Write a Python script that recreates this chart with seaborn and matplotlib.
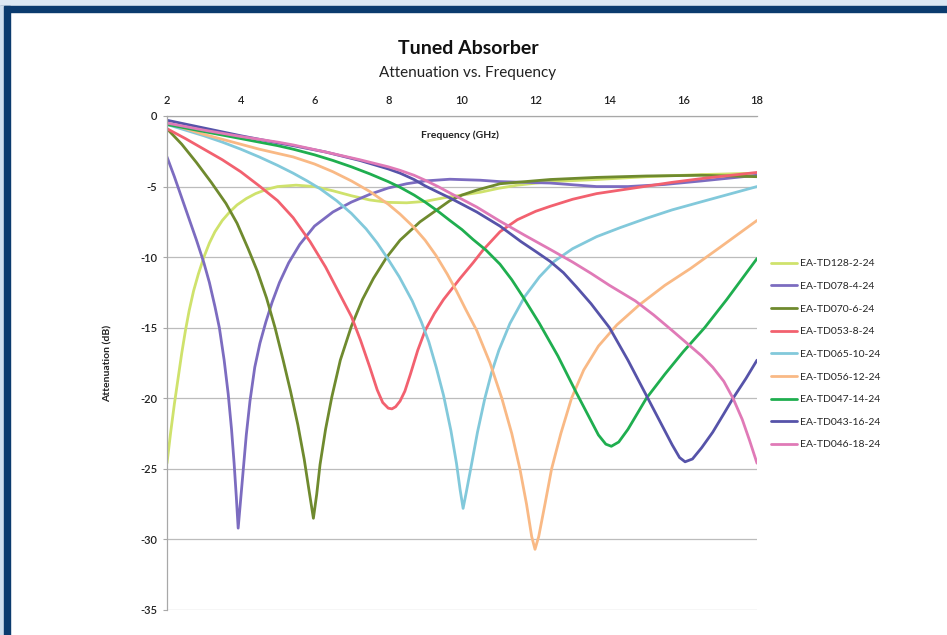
import matplotlib
matplotlib.use("Agg")
import matplotlib.pyplot as plt
import matplotlib.patches as mpatches
import pandas as pd
import seaborn as sns

# values (frequency in GHz, attenuation in dB)
series_names = ["EA-TD128-2-24", "EA-TD078-4-24", "EA-TD070-6-24", "EA-TD053-8-24",
                "EA-TD065-10-24", "EA-TD056-12-24", "EA-TD047-14-24", "EA-TD043-16-24",
                "EA-TD046-18-24"]

td128_f = [2.0, 2.1, 2.2, 2.3, 2.4, 2.5, 2.6, 2.72, 2.85, 3.0, 3.15, 3.3, 3.5, 3.7, 3.9,
           4.15, 4.4, 4.7, 5.0, 5.5, 6.0, 6.5, 7.0, 7.5, 8.0, 8.5, 9.0, 9.5, 10.0, 10.5,
           11.0, 11.5, 12.39, 13.65, 15.0, 16.5, 18.0]
td128_a = [-24.6, -22.4, -20.4, -18.6, -16.8, -15.2, -13.8, -12.4, -11.2, -10.0, -9.0, -8.2,
           -7.4, -6.8, -6.3, -5.85, -5.5, -5.2, -5.0, -4.9, -5.0, -5.3, -5.65, -5.95, -6.12,
           -6.15, -6.05, -5.8, -5.6, -5.4, -5.12, -4.9, -4.65, -4.5, -4.3, -4.15, -4.05]

td078_f = [2.0, 2.2, 2.4, 2.6, 2.8, 3.0, 3.15, 3.3, 3.42, 3.55, 3.66, 3.75, 3.82, 3.88, 3.93,
           3.99, 4.07, 4.15, 4.25, 4.38, 4.52, 4.68, 4.85, 5.05, 5.3, 5.6, 6.0, 6.5, 7.0,
           7.5, 8.0, 8.5, 9.0, 9.67, 10.5, 11.03, 12.39, 13.65, 14.5, 15.5, 16.5, 18.0]
td078_a = [-2.9, -4.3, -5.8, -7.3, -8.8, -10.4, -11.8, -13.5, -15.0, -17.3, -19.7, -22.2,
           -24.6, -27.0, -29.2, -27.4, -25.0, -22.6, -20.2, -17.8, -16.1, -14.6, -13.2, -11.8,
           -10.4, -9.1, -7.8, -6.8, -6.1, -5.55, -5.1, -4.8, -4.6, -4.48, -4.55, -4.65, -4.75,
           -5.0, -5.0, -4.85, -4.6, -4.2]

td070_f = [2.0, 2.4, 2.8, 3.2, 3.6, 3.9, 4.2, 4.45, 4.7, 4.93, 5.15, 5.35, 5.55, 5.72, 5.85,
           5.97, 6.06, 6.15, 6.3, 6.47, 6.7, 7.0, 7.3, 7.6, 7.96, 8.32, 8.86, 9.4, 9.67, 10.0,
           10.4, 11.03, 12.39, 13.65, 15.0, 16.5, 18.0]
td070_a = [-0.9, -2.0, -3.3, -4.7, -6.2, -7.6, -9.4, -11.0, -12.9, -15.0, -17.3, -19.5, -21.9,
           -24.3, -26.5, -28.5, -26.8, -24.7, -22.2, -19.9, -17.3, -14.9, -13.0, -11.5, -10.0,
           -8.8, -7.5, -6.5, -6.0, -5.6, -5.25, -4.8, -4.5, -4.35, -4.25, -4.2, -4.3]

td053_f = [2.0, 2.5, 3.0, 3.5, 4.0, 4.5, 5.0, 5.42, 5.88, 6.3, 6.7, 7.0, 7.25, 7.5, 7.7, 7.85,
           8.0, 8.1, 8.2, 8.32, 8.45, 8.6, 8.8, 9.0, 9.25, 9.5, 9.95, 10.3, 10.57, 11.03, 11.5,
           12.0, 12.39, 13.0, 13.65, 14.8, 15.7, 16.6, 18.0]
td053_a = [-0.9, -1.6, -2.35, -3.1, -3.95, -4.95, -6.0, -7.2, -8.9, -10.7, -12.7, -14.2, -15.9,
           -17.8, -19.4, -20.3, -20.7, -20.75, -20.6, -20.2, -19.5, -18.3, -16.6, -15.2, -14.0,
           -13.0, -11.5, -10.4, -9.5, -8.2, -7.35, -6.75, -6.4, -5.9, -5.5, -5.05, -4.7, -4.4,
           -4.0]

td065_f = [2.0, 2.5, 3.0, 3.5, 4.0, 4.5, 5.0, 5.42, 5.8, 6.15, 6.6, 7.0, 7.4, 7.7, 7.96, 8.3,
           8.65, 8.9, 9.1, 9.3, 9.5, 9.7, 9.85, 9.95, 10.03, 10.12, 10.25, 10.42, 10.62, 10.8,
           11.0, 11.3, 11.7, 12.1, 12.5, 13.0, 13.65, 14.3, 15.0, 15.7, 16.6, 17.3, 18.0]
td065_a = [-0.6, -1.0, -1.4, -1.85, -2.35, -2.9, -3.5, -4.05, -4.6, -5.15, -6.0, -6.9, -8.0,
           -9.0, -10.0, -11.4, -13.1, -14.6, -16.0, -17.8, -19.8, -22.3, -24.6, -26.5, -27.8,
           -26.6, -24.8, -22.4, -20.0, -18.2, -16.6, -14.7, -12.8, -11.4, -10.3, -9.4, -8.55,
           -7.9, -7.25, -6.65, -6.0, -5.5, -5.0]

td056_f = [2.0, 2.5, 3.0, 3.5, 4.0, 4.5, 5.0, 5.42, 6.0, 6.5, 7.0, 7.5, 8.0, 8.32, 8.7, 9.0,
           9.3, 9.6, 9.85, 10.1, 10.4, 10.76, 11.08, 11.35, 11.57, 11.75, 11.89, 11.98, 12.08,
           12.25, 12.43, 12.68, 12.97, 13.3, 13.7, 14.2, 14.8, 15.5, 16.2, 17.0, 18.0]
td056_a = [-0.5, -0.9, -1.3, -1.65, -2.0, -2.35, -2.65, -2.9, -3.4, -3.95, -4.6, -5.35, -6.25,
           -6.95, -7.9, -8.8, -9.9, -11.2, -12.4, -13.7, -15.2, -17.5, -20.0, -22.5, -25.0,
           -27.5, -29.8, -30.7, -29.8, -27.5, -25.0, -22.5, -20.0, -18.0, -16.3, -14.8, -13.4,
           -12.0, -10.8, -9.3, -7.4]

td047_f = [2.0, 3.0, 4.0, 5.0, 5.42, 6.0, 6.5, 7.0, 7.5, 8.0, 8.32, 8.7, 9.0, 9.35, 9.67,
           10.0, 10.3, 10.65, 11.03, 11.35, 11.65, 12.1, 12.6, 13.1, 13.4, 13.7, 13.9, 14.05,
           14.25, 14.5, 14.75, 15.0, 15.5, 16.0, 16.58, 17.18, 18.0]
td047_a = [-0.6, -1.1, -1.6, -2.1, -2.35, -2.75, -3.15, -3.6, -4.1, -4.65, -5.05, -5.6, -6.1,
           -6.75, -7.4, -8.05, -8.75, -9.5, -10.5, -11.6, -12.8, -14.7, -17.0, -19.6, -21.1,
           -22.6, -23.25, -23.4, -23.1, -22.2, -21.1, -20.0, -18.3, -16.7, -15.0, -13.0, -10.1]

td043_f = [2.0, 3.0, 4.0, 5.0, 5.42, 6.3, 7.23, 8.0, 8.32, 8.7, 9.0, 9.35, 9.67, 10.0, 10.4,
           11.03, 11.6, 12.0, 12.39, 12.75, 13.1, 13.5, 14.0, 14.5, 15.0, 15.4, 15.7, 15.9,
           16.05, 16.25, 16.5, 16.8, 17.1, 17.35, 17.7, 18.0]
td043_a = [-0.3, -0.85, -1.4, -1.9, -2.1, -2.55, -3.15, -3.75, -4.05, -4.5, -4.95, -5.4, -5.8,
           -6.25, -6.8, -7.8, -8.9, -9.6, -10.3, -11.1, -12.1, -13.3, -15.0, -17.3, -19.8,
           -21.8, -23.3, -24.2, -24.5, -24.3, -23.5, -22.4, -21.1, -20.0, -18.6, -17.3]

td046_f = [2.0, 3.0, 4.0, 5.0, 5.42, 6.3, 7.23, 8.0, 8.32, 8.7, 9.0, 9.35, 9.67, 10.0, 10.4,
           11.03, 11.7, 12.39, 13.0, 13.5, 14.0, 14.7, 15.2, 15.7, 16.1, 16.5, 16.8, 17.1,
           17.35, 17.6, 17.8, 18.0]
td046_a = [-0.5, -1.0, -1.45, -1.85, -2.05, -2.55, -3.1, -3.6, -3.85, -4.2, -4.55, -5.0, -5.45,
           -5.9, -6.45, -7.45, -8.45, -9.45, -10.35, -11.15, -12.0, -13.1, -14.1, -15.2, -16.1,
           -17.0, -17.8, -18.8, -20.0, -21.5, -23.0, -24.6]

colors = ["#cfe26c", "#7c6cc0", "#6f8a2e", "#f2616f", "#82c9db", "#f9b985", "#1fae4f",
          "#5653a9", "#e07ab7"]

all_f = [td128_f, td078_f, td070_f, td053_f, td065_f, td056_f, td047_f, td043_f, td046_f]
all_a = [td128_a, td078_a, td070_a, td053_a, td065_a, td056_a, td047_a, td043_a, td046_a]

frames = []
for name, f, a in zip(series_names, all_f, all_a):
    frames.append(pd.DataFrame({"freq": f, "atten": a, "series": name}))
df = pd.concat(frames, ignore_index=True)

sns.set_theme(style="white")
plt.rcParams["font.family"] = ["Lato", "DejaVu Sans"]
plt.rcParams["axes.unicode_minus"] = False

fig = plt.figure(figsize=(9.47, 6.35), dpi=100)
fig.patch.set_facecolor("white")

# frame of the page the chart sits in
fig.patches.append(mpatches.Rectangle((0, 1 - 6 / 635), 1, 6 / 635, transform=fig.transFigure,
                                      color="#dce8f3", zorder=0))
fig.patches.append(mpatches.Rectangle((0, 1 - 11.5 / 635), 1, 5.5 / 635, transform=fig.transFigure,
                                      color="#0b3b6e", zorder=0))
fig.patches.append(mpatches.Rectangle((0, 0), 4 / 947, 1 - 6 / 635, transform=fig.transFigure,
                                      color="#cfdfee", zorder=0))
fig.patches.append(mpatches.Rectangle((4 / 947, 0), 5.5 / 947, 1 - 6 / 635, transform=fig.transFigure,
                                      color="#0b3b6e", zorder=0))

ax = fig.add_axes([167 / 947, 25 / 635, 590 / 947, 494 / 635])

sns.lineplot(data=df, x="freq", y="atten", hue="series", hue_order=series_names,
             palette=dict(zip(series_names, colors)), estimator=None, linewidth=2.0, ax=ax)

ax.set_xlim(2, 18)
ax.set_ylim(-35, 0)
ax.set_xticks(range(2, 19, 2))
ax.set_yticks(range(-35, 1, 5))
ax.xaxis.tick_top()
ax.xaxis.set_label_position("top")
ax.tick_params(axis="x", length=0, pad=7, labelsize=8, labelcolor="#222222")
ax.tick_params(axis="y", length=3, width=0.8, color="#a8a8a8", pad=4, labelsize=8,
               labelcolor="#222222", left=True)
for lab in ax.get_xticklabels() + ax.get_yticklabels():
    lab.set_fontweight("semibold")
ax.yaxis.grid(True, color="#bcbcbc", linewidth=0.9)
ax.set_axisbelow(True)
for side in ["right", "bottom"]:
    ax.spines[side].set_visible(False)
for side in ["left", "top"]:
    ax.spines[side].set_color("#a8a8a8")
    ax.spines[side].set_linewidth(0.9)

ax.set_xlabel("Frequency (GHz)", fontsize=7.5, fontweight="bold", color="#222222")
ax.xaxis.set_label_coords(0.497, 0.962)
ax.xaxis.label.set_va("center")
ax.set_ylabel("Attenuation (dB)", fontsize=7.5, fontweight="bold", color="#222222")
ax.yaxis.set_label_coords(-0.092, 0.5)

handles, labels = ax.get_legend_handles_labels()
ax.get_legend().remove()
fig.legend(handles, labels, loc="upper left", bbox_to_anchor=(767 / 947, 1 - 255 / 635),
           frameon=False, fontsize=7.5, handlelength=2.5, handletextpad=0.3,
           labelspacing=1.28, borderaxespad=0)

fig.text(468 / 947, 1 - 48 / 635, "Tuned Absorber", ha="center", va="center",
         fontsize=14, fontweight="bold", color="#111111")
fig.text(468 / 947, 1 - 73 / 635, "Attenuation vs. Frequency", ha="center", va="center",
         fontsize=11, color="#222222")

fig.savefig("out.png", dpi=100)
